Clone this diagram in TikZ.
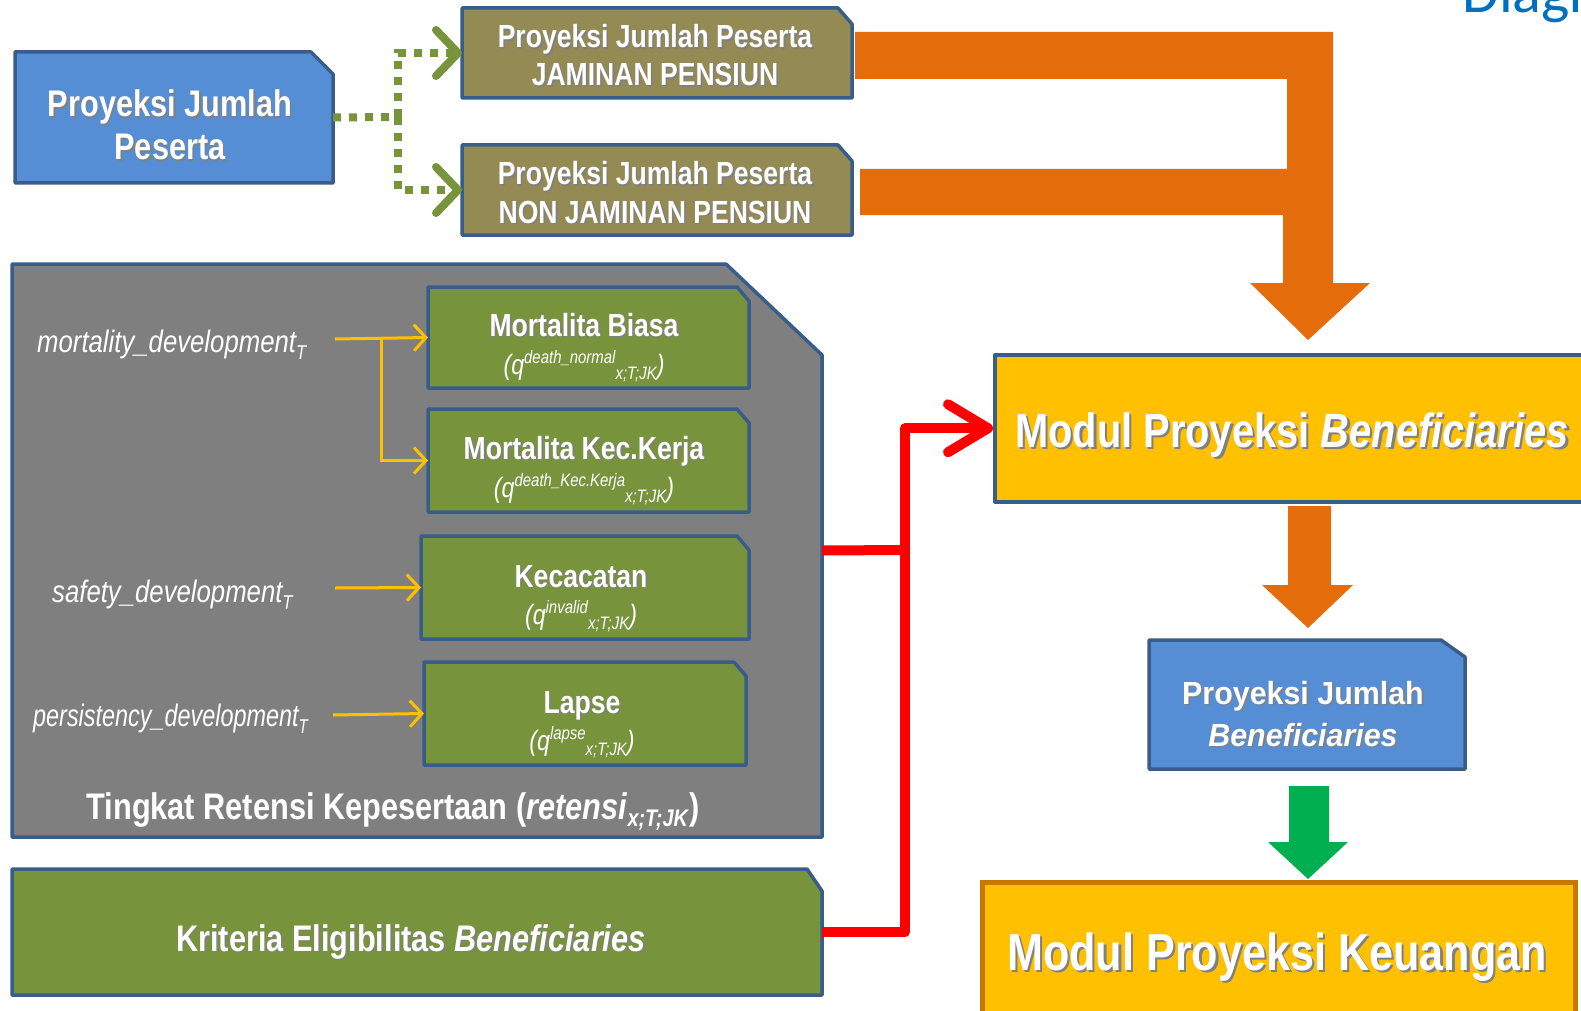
\documentclass[tikz,border=0pt]{standalone}
\usepackage{fontspec}
\usepackage{graphicx}
\setmainfont{Liberation Sans}
\newfontfamily\nar[FakeStretch=0.83]{Liberation Sans}
\newfontfamily\semi[FakeStretch=0.95]{Liberation Sans}
\newfontfamily\calib{Carlito}
\usetikzlibrary{arrows.meta}
\definecolor{bfill}{HTML}{558ED5}
\definecolor{bord}{HTML}{385D8A}
\definecolor{olive}{HTML}{948A54}
\definecolor{gfill}{HTML}{77933C}
\definecolor{grayf}{HTML}{7F7F7F}
\definecolor{orng}{HTML}{E46C0A}
\definecolor{yell}{HTML}{FFC000}
\definecolor{garrow}{HTML}{00B050}
\definecolor{kbord}{HTML}{C87800}
\definecolor{dblue}{HTML}{0070C0}
\newcommand\shd[2][1.6pt]{\leavevmode\rlap{\kern#1\raisebox{-#1}{\color{black!50}#2}}#2}
\newcommand\qf[1]{{\nar\itshape\fontsize{28}{28}\selectfont(q\raisebox{11pt}{\fontsize{18}{18}\selectfont#1}\raisebox{-5pt}{\fontsize{18}{18}\selectfont x;T;JK})}}
\newcommand\lab[1]{{\nar\itshape\fontsize{31}{31}\selectfont#1\raisebox{-7pt}{\fontsize{20}{20}\selectfont T}}}
% name, x1, y1, x2, y2, cutx, cuty, style
\newcommand\cutbox[8]{%
  \draw[#8] (#2,#3) -- ({#4-#6},#3) -- (#4,{#3+#7}) -- (#4,#5) -- (#2,#5) -- cycle;
  \node[inner sep=0pt, outer sep=0pt, minimum width={(#4-#2)*1pt}, minimum height={(#5-#3)*1pt}] (#1) at ({(#2+#4)/2},{(#3+#5)/2}) {};}
\tikzset{
  box/.style={line width=3.5pt, draw=bord, line join=round},
  txt/.style={text=white, inner sep=0pt, anchor=base},
  ftitle/.style={font={\nar\bfseries\fontsize{32}{32}\selectfont}},
  fmid/.style={font={\nar\bfseries\fontsize{37}{37}\selectfont}},
  gdot/.style={draw=gfill, line width=8pt, dash pattern=on 8pt off 8pt, -{Straight Barb[length=22pt,width=46pt,round]}},
  gline/.style={draw=gfill, line width=8pt, dash pattern=on 8pt off 8pt},
  yarr/.style={draw=yell, line width=3pt, -{Straight Barb[length=12pt,width=26pt]}},
  rline/.style={draw=red, line width=10pt, line join=round},
  rarr/.style={draw=red, line width=10pt, line join=round, -{Straight Barb[length=40pt,width=48pt,round]}},
}
\begin{document}
\begin{tikzpicture}[x=1pt,y=-1pt]
\useasboundingbox (0,0) rectangle (1581,1011);
\clip (0,0) rectangle (1581,1011);
\fill[white] (0,0) rectangle (1581,1011);

% corner title (clipped by the page edge, as in the reference)
\node[anchor=base west, text=dblue, inner sep=0pt, font={\calib\fontsize{60}{60}\selectfont}] (diag) at (1462,13) {Diagr};

% top-left blue box
\cutbox{pj}{15}{52}{333}{183}{22}{22}{box, fill=bfill}
\node[txt, fmid] (pj1) at (170,117) {\shd{Proyeksi Jumlah}};
\node[txt, fmid] (pj2) at (170,160) {\shd{Peserta}};

% olive boxes
\cutbox{jp}{462}{8}{852}{98}{14}{16}{box, fill=olive}
\node[txt, ftitle] (jp1) at (655,48) {\shd{Proyeksi Jumlah Peserta}};
\node[txt, ftitle] (jp2) at (655,86) {\shd{JAMINAN PENSIUN}};
\cutbox{njp}{462}{145}{852}{235}{14}{16}{box, fill=olive}
\node[txt, ftitle] (njp1) at (655,185) {\shd{Proyeksi Jumlah Peserta}};
\node[txt, ftitle] (njp2) at (655,223) {\shd{NON JAMINAN PENSIUN}};

% green dotted connectors
\coordinate (split) at (398,117);
\draw[gline] (pj.east) -- (split);
\draw[gdot] (split) |- (jp.west);
\draw[gdot] (split) |- (njp.west);

% orange big arrow
\fill[orng] (855,32) -- (1333,32) -- (1333,283) -- (1370,283) -- (1308,340) -- (1250,283)
  -- (1283,283) -- (1283,215) -- (860,215) -- (860,169) -- (1287,169) -- (1287,79) -- (855,79) -- cycle;

% gray container
\cutbox{gray}{12}{264}{822}{837}{96}{91}{box, fill=grayf}
\node[txt, fmid] (tingkat) at (393,819) {\shd{Tingkat Retensi Kepesertaan (\textit{retensi}\raisebox{-7pt}{\fontsize{24}{24}\selectfont\textit{x;T;JK}})}};

% inner green boxes
\cutbox{mb}{428}{287}{749}{388}{12}{14}{box, fill=gfill}
\node[txt, ftitle] (mb1) at (584,336) {\shd{Mortalita Biasa}};
\node[txt] (mb2) at (584,374) {\qf{death\_normal}};
\cutbox{mk}{428}{409}{749}{512}{12}{14}{box, fill=gfill}
\node[txt, ftitle] (mk1) at (584,459) {\shd{Mortalita Kec.Kerja}};
\node[txt] (mk2) at (584,497) {\qf{death\_Kec.Kerja}};
\cutbox{kc}{421}{536}{749}{639}{12}{14}{box, fill=gfill}
\node[txt, ftitle] (kc1) at (581,587) {\shd{Kecacatan}};
\node[txt] (kc2) at (581,624) {\qf{invalid}};
\cutbox{lp}{424}{662}{746}{765}{12}{14}{box, fill=gfill}
\node[txt, ftitle] (lp1) at (582,713) {\shd{Lapse}};
\node[txt] (lp2) at (582,750) {\qf{lapse}};

% labels
\node[txt, anchor=base west] (lm) at (37,352) {\lab{mortality\_development}};
\node[txt, anchor=base west] (ls) at (52,602) {\lab{safety\_development}};
\node[txt, anchor=base west] (lpd) at (33,726) {\scalebox{0.91}[1]{\lab{persistency\_development}}};

% yellow arrows
\coordinate (ms) at (335,339);
\coordinate (mbr) at (381,339);
\coordinate (ss) at (335,588);
\coordinate (ps) at (333,715);
\draw[yarr] (ms) -- (mb.west);
\draw[yarr] (mbr) |- (mk.west);
\draw[yarr] (ss) -- (kc.west);
\draw[yarr] (ps) -- (lp.west);

% Kriteria box
\cutbox{krit}{12}{869}{822}{995}{15}{22}{box, fill=gfill}
\node[txt, fmid] (krit1) at (411,951) {\shd{Kriteria Eligibilitas \textit{Beneficiaries}}};

% Modul Proyeksi Beneficiaries
\node[box, fill=yell, inner sep=0pt, minimum width=602pt, minimum height=147pt, anchor=north west] (modb) at (993,353) {};
\node[txt, font={\nar\bfseries\fontsize{48}{48}\selectfont}] (modbt) at (1292,447) {\shd[2.4pt]{Modul Proyeksi \textit{Beneficiaries}}};

% red connectors
\coordinate (rj) at (905,550);
\draw[rline] (gray.east) -- (rj);
\draw[rarr] (krit.east) -| (rj) |- (modb.west);

% orange down arrow
\fill[orng] (1288,506) -- (1331,506) -- (1331,585) -- (1353,585) -- (1308,628) -- (1262,585) -- (1288,585) -- cycle;

% blue beneficiaries box
\cutbox{pjb}{1149}{640}{1465}{769}{24}{17}{box, fill=bfill}
\node[txt, font={\semi\bfseries\fontsize{32}{32}\selectfont}] (pjb1) at (1303,704) {\shd{Proyeksi Jumlah}};
\node[txt, font={\semi\bfseries\fontsize{32}{32}\selectfont}] (pjb2) at (1303,746) {\shd{\textit{Beneficiaries}}};

% green down arrow
\fill[garrow] (1289,786) -- (1329,786) -- (1329,842) -- (1348,842) -- (1308,879) -- (1268,842) -- (1289,842) -- cycle;

% Modul Proyeksi Keuangan
\node[draw=kbord, line width=5pt, fill=yell, inner sep=0pt, minimum width=593pt, minimum height=160pt, anchor=north west] (keu) at (980,880) {};
\node[txt, font={\nar\bfseries\fontsize{52}{52}\selectfont}] (keut) at (1277,970) {\shd[2.4pt]{Modul Proyeksi Keuangan}};
\end{tikzpicture}
\end{document}
